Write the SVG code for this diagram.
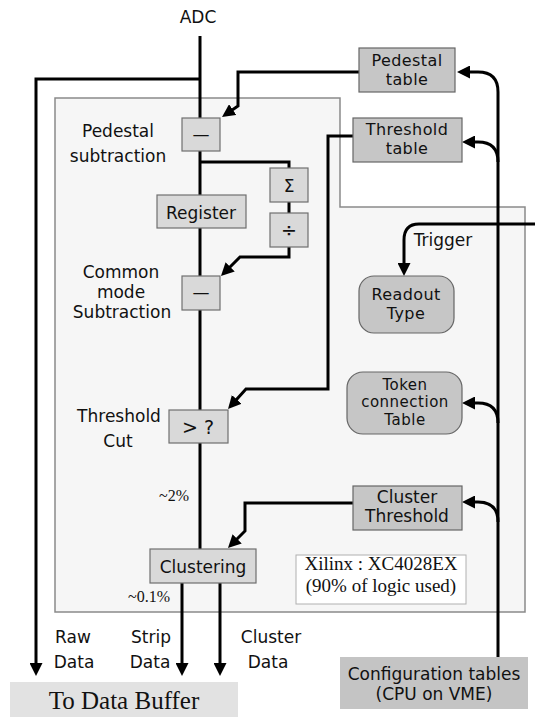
<svg xmlns="http://www.w3.org/2000/svg" width="535" height="717" viewBox="0 0 535 717">
<style>
.t{font-family:"DejaVu Sans","Liberation Sans",sans-serif;font-size:17px;fill:#111;text-anchor:middle}
.m{font-size:16px;letter-spacing:0.4px}
.s{font-family:"Liberation Serif","Times New Roman",serif;fill:#111;text-anchor:middle}
.op{fill:#d9d9d9;stroke:#6f6f6f;stroke-width:1.2}
.tb{fill:#c6c6c6;stroke:#666;stroke-width:1.2}
.c{fill:none;stroke:#000;stroke-width:3}
.ca{fill:none;stroke:#000;stroke-width:3;marker-end:url(#ah)}
</style>
<defs>
<marker id="ah" markerUnits="userSpaceOnUse" markerWidth="14" markerHeight="13" refX="9" refY="6.5" orient="auto">
<path d="M0,0 L13,6.5 L0,13 z" fill="#000"/>
</marker>
</defs>
<rect width="535" height="717" fill="#fff"/>
<g id="fpga">
<path d="M55,98 H340 V207 H525 V612 H55 Z" fill="#f6f6f6" stroke="#8a8a8a" stroke-width="1.5"/>
</g>
<g id="connectors">
<path class="c" d="M200,36 V549"/>
<path class="ca" d="M200,79 H36 V672"/>
<path class="ca" d="M182,583 V672"/>
<path class="ca" d="M220,583 V672"/>
<path class="ca" d="M359,72 H238 V106 L225.3,114.7"/>
<path class="c" d="M200,162 H289 V168"/>
<path class="c" d="M289,202 V213"/>
<path class="ca" d="M289,247 V257 H240 L223.8,273.2"/>
<path class="ca" d="M353,136 H328 V389 H246 L230.7,406"/>
<path class="ca" d="M353,503 H245 V531 L230.8,545.2"/>
<path class="ca" d="M498,657 V92 Q498,72 478,72 H461"/>
<path class="ca" d="M498,162 Q498,142 478,142 H466"/>
<path class="ca" d="M498,423 Q498,403 478,403 H466"/>
<path class="ca" d="M498,522 Q498,502 478,502 H466"/>
<path class="ca" d="M535,224 H419 Q404,224 404,240 V272"/>
</g>
<g id="adc"><text class="t" x="198" y="23">ADC</text></g>
<g id="pedestal-table">
<rect class="tb" x="359" y="48" width="96" height="44"/>
<text class="t m" x="407" y="66">Pedestal</text>
<text class="t m" x="407" y="85">table</text>
</g>
<g id="threshold-table">
<rect class="tb" x="353" y="118" width="109" height="44"/>
<text class="t m" x="407" y="135">Threshold</text>
<text class="t m" x="407" y="154">table</text>
</g>
<g id="pedestal-subtraction">
<rect class="op" x="182" y="118" width="38" height="33"/>
<text class="t" x="201" y="140">—</text>
<text class="t" x="118" y="137">Pedestal</text>
<text class="t" x="118" y="162">subtraction</text>
</g>
<g id="register">
<rect class="op" x="157" y="195" width="89" height="33"/>
<text class="t" x="201" y="219">Register</text>
</g>
<g id="sum">
<rect class="op" x="270" y="168" width="38" height="34"/>
<text class="t" x="289" y="192">Σ</text>
</g>
<g id="divide">
<rect class="op" x="270" y="213" width="38" height="34"/>
<text class="t" x="289" y="237" style="font-size:19px">÷</text>
</g>
<g id="common-mode">
<rect class="op" x="182" y="276" width="38" height="34"/>
<text class="t" x="201" y="298">—</text>
<text class="t" x="121" y="278">Common</text>
<text class="t" x="121" y="298">mode</text>
<text class="t" x="122" y="318">Subtraction</text>
</g>
<g id="threshold-cut">
<rect class="op" x="169" y="410" width="59" height="33"/>
<text class="t" x="198" y="434" style="font-size:19px">&gt; ?</text>
<text class="t" x="119" y="422">Threshold</text>
<text class="t" x="118" y="447">Cut</text>
</g>
<g id="pct2"><text class="s" x="174" y="501" style="font-size:16px">~2%</text></g>
<g id="clustering">
<rect class="op" x="150" y="549" width="106" height="34"/>
<text class="t" x="203" y="573">Clustering</text>
</g>
<g id="pct01"><text class="s" x="149" y="602" style="font-size:16px">~0.1%</text></g>
<g id="readout-type">
<rect class="tb" x="359" y="276" width="95" height="57" rx="15"/>
<text class="t m" x="406" y="300">Readout</text>
<text class="t m" x="406" y="319">Type</text>
</g>
<g id="trigger"><text class="t" x="443" y="246">Trigger</text></g>
<g id="token-table">
<rect class="tb" x="347" y="372" width="115" height="62" rx="16"/>
<text class="t" x="405" y="389.5" style="font-size:15px;letter-spacing:0.5px">Token</text>
<text class="t" x="405" y="407" style="font-size:15px;letter-spacing:0.5px">connection</text>
<text class="t" x="405" y="424.5" style="font-size:15px;letter-spacing:0.5px">Table</text>
</g>
<g id="cluster-threshold">
<rect class="tb" x="353" y="486" width="109" height="44"/>
<text class="t" x="407" y="503">Cluster</text>
<text class="t" x="407" y="522">Threshold</text>
</g>
<g id="xilinx">
<rect x="296" y="555" width="170" height="49" fill="#fff" stroke="#b0b0b0" stroke-width="1"/>
<text class="s" x="381" y="570" style="font-size:19px">Xilinx : XC4028EX</text>
<text class="s" x="381" y="592" style="font-size:19px">(90% of logic used)</text>
</g>
<g id="labels">
<text class="t" x="73" y="643">Raw</text>
<text class="t" x="74" y="668">Data</text>
<text class="t" x="151" y="643">Strip</text>
<text class="t" x="150" y="668">Data</text>
<text class="t" x="271" y="643">Cluster</text>
<text class="t" x="268" y="668">Data</text>
</g>
<g id="data-buffer">
<rect x="10" y="682" width="228" height="35" fill="#e2e2e2"/>
<text class="s" x="124" y="709" style="font-size:25px">To Data Buffer</text>
</g>
<g id="config">
<rect x="340" y="657" width="188" height="52" fill="#c4c4c4"/>
<text class="t" x="434" y="680">Configuration tables</text>
<text class="t" x="434" y="700">(CPU on VME)</text>
</g>
</svg>
